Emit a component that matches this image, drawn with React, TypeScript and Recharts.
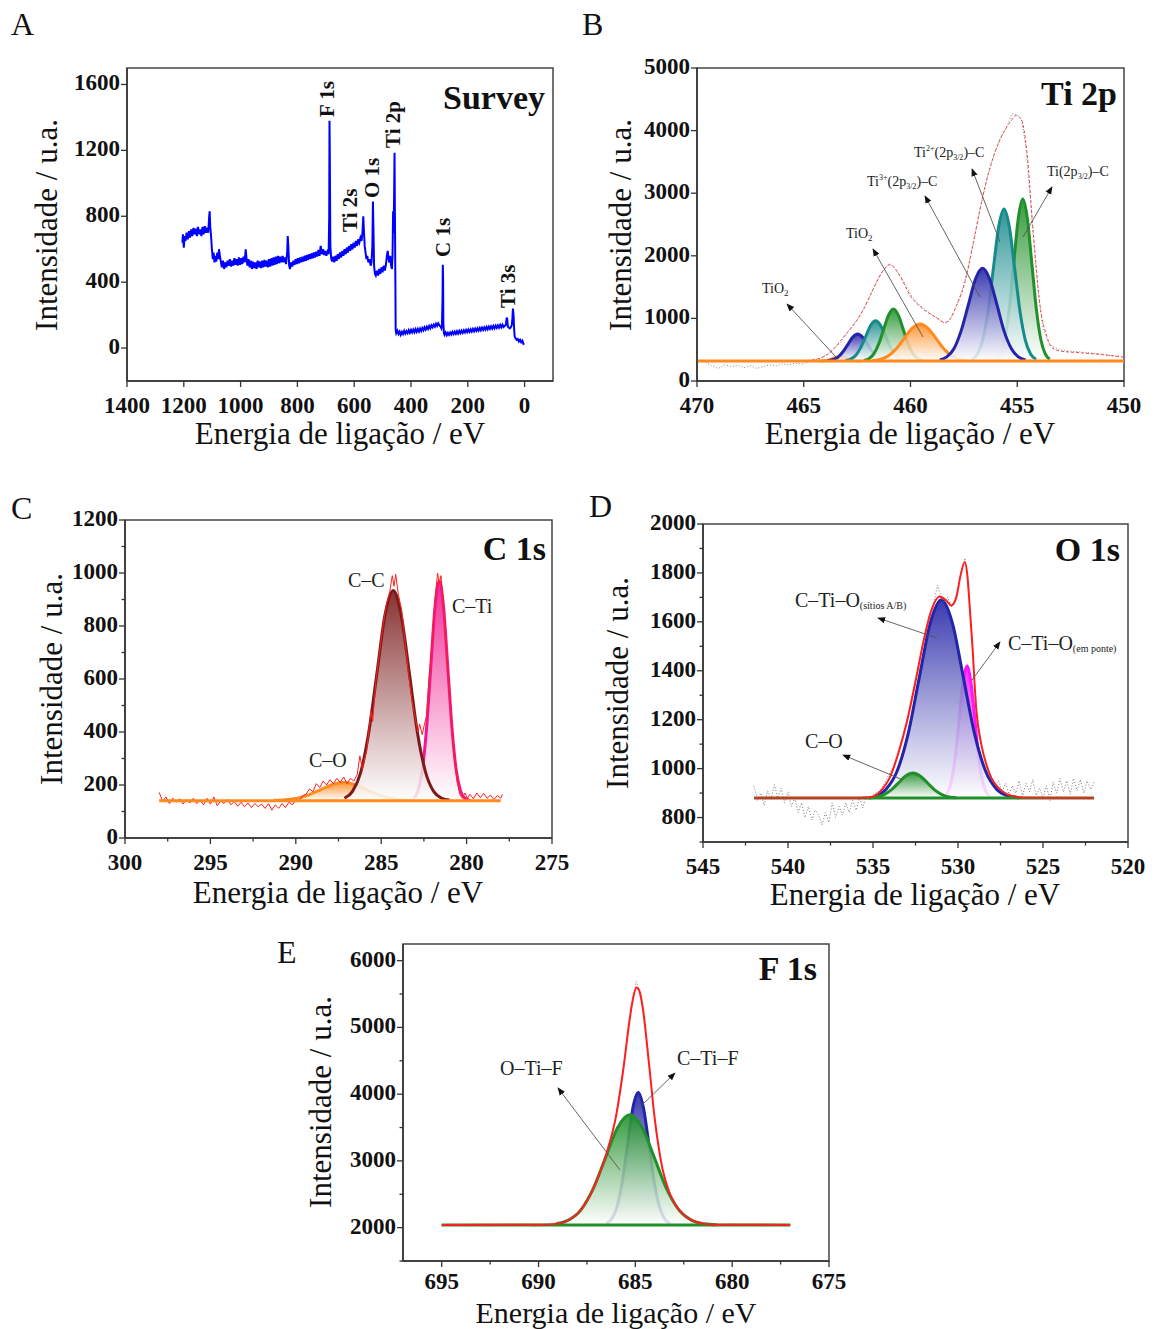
import React from 'react';
import { ComposedChart, Line, Area, XAxis, YAxis, ReferenceArea } from 'recharts';

type Pt = [number, number];
const rows = (pts: Pt[]) => pts.map(([x, y]) => ({ x, y }));

const FONT = '"Liberation Serif", "Times New Roman", serif';

// ---------- A: survey ----------
const surveyTicksX = [1400, 1200, 1000, 800, 600, 400, 200, 0];
const surveyTicksY = [0, 400, 800, 1200, 1600];
const survey: Pt[] = [
  [1205, 640], [1203, 690], [1200, 610], [1197, 680], [1194, 650], [1190, 700], [1186, 660], [1182, 710], [1178, 670],
  [1174, 720], [1170, 680], [1166, 730], [1162, 690], [1158, 725], [1154, 680], [1150, 735], [1146, 690], [1142, 720],
  [1138, 680], [1134, 735], [1130, 690], [1126, 740], [1122, 700], [1118, 730], [1114, 700], [1111, 790], [1109, 830],
  [1107, 740], [1104, 680], [1101, 600], [1098, 540], [1095, 580], [1092, 520], [1089, 560], [1086, 525], [1082, 580],
  [1079, 540], [1076, 600], [1073, 560], [1070, 530], [1066, 490], [1062, 530], [1058, 480], [1054, 520], [1050, 490],
  [1046, 530], [1042, 500], [1038, 540], [1034, 495], [1030, 530], [1026, 500], [1022, 545], [1018, 505], [1014, 540],
  [1010, 500], [1006, 550], [1002, 505], [998, 545], [994, 510], [990, 555], [986, 520], [982, 600], [979, 540],
  [976, 500], [972, 540], [968, 490], [964, 530], [960, 480], [956, 525], [952, 485], [948, 520], [944, 480], [940, 530],
  [936, 490], [932, 525], [928, 485], [924, 530], [920, 490], [916, 535], [912, 495], [908, 530], [904, 490], [900, 540],
  [896, 495], [892, 545], [888, 500], [884, 550], [880, 505], [876, 555], [872, 510], [868, 560], [864, 515], [860, 555],
  [856, 520], [852, 560], [848, 520], [844, 550], [840, 510], [836, 580], [834, 680], [832, 620], [829, 500], [826, 480],
  [822, 520], [818, 495], [814, 530], [810, 505], [806, 540], [802, 510], [798, 545], [794, 515], [790, 550], [786, 520],
  [782, 555], [778, 525], [774, 560], [770, 530], [766, 565], [762, 535], [758, 570], [754, 540], [750, 575], [746, 545],
  [742, 580], [738, 550], [734, 585], [730, 555], [726, 595], [722, 560], [718, 620], [714, 570], [710, 600], [706, 565],
  [702, 590], [698, 560], [694, 585], [690, 570], [688, 800], [687, 1380], [686, 1200], [684, 620], [681, 545], [678, 525],
  [674, 555], [670, 520], [666, 560], [662, 530], [658, 570], [654, 540], [650, 580], [646, 550], [642, 590], [638, 560],
  [634, 600], [630, 570], [626, 610], [622, 580], [618, 620], [614, 590], [610, 630], [606, 600], [602, 640], [598, 610],
  [594, 650], [590, 620], [586, 660], [582, 640], [578, 670], [574, 650], [571, 700], [568, 800], [566, 720], [563, 620],
  [560, 580], [557, 540], [554, 560], [550, 520], [546, 540], [542, 500], [539, 520], [536, 620], [534, 890], [532, 700],
  [530, 500], [527, 450], [524, 440], [520, 470], [516, 440], [512, 480], [508, 450], [504, 490], [500, 460], [496, 500],
  [492, 470], [488, 510], [485, 560], [482, 590], [479, 540], [476, 520], [473, 560], [470, 500], [467, 480], [465, 560],
  [463, 830], [461, 700], [459, 1000], [458, 1185], [457, 900], [455, 400], [454, 110], [452, 90], [448, 105], [444, 85],
  [440, 100], [436, 80], [432, 98], [428, 85], [424, 105], [420, 88], [416, 102], [412, 90], [408, 108], [404, 92],
  [400, 110], [396, 95], [392, 112], [388, 96], [384, 114], [380, 98], [376, 116], [372, 100], [368, 118], [364, 104],
  [360, 122], [356, 108], [352, 126], [348, 112], [344, 130], [340, 116], [336, 134], [332, 120], [328, 138], [324, 126],
  [320, 142], [316, 130], [312, 148], [308, 134], [304, 150], [300, 138], [296, 130], [293, 120], [291, 140], [289, 300],
  [288, 505], [287, 420], [286, 150], [284, 90], [282, 80], [278, 95], [274, 78], [270, 92], [266, 80], [262, 95],
  [258, 82], [254, 98], [250, 85], [246, 100], [242, 86], [238, 102], [234, 88], [230, 104], [226, 90], [222, 106],
  [218, 92], [214, 108], [210, 95], [206, 110], [202, 96], [198, 112], [194, 98], [190, 114], [186, 100], [182, 116],
  [178, 102], [174, 118], [170, 104], [166, 120], [162, 106], [158, 122], [154, 108], [150, 124], [146, 110], [142, 126],
  [138, 112], [134, 128], [130, 114], [126, 130], [122, 116], [118, 132], [114, 118], [110, 134], [106, 120], [102, 136],
  [98, 122], [94, 138], [90, 124], [86, 140], [82, 126], [78, 142], [74, 128], [70, 135], [66, 140], [63, 185], [61, 175],
  [59, 130], [56, 125], [52, 120], [48, 128], [45, 140], [43, 180], [41, 240], [39, 200], [37, 120], [35, 70], [32, 60],
  [28, 50], [24, 55], [20, 40], [16, 50], [12, 35], [8, 45], [4, 25], [2, 20],
];
const surveyPeaks = [
  { name: 'F 1s', x: 334, y: 117 },
  { name: 'Ti 2s', x: 357, y: 232 },
  { name: 'O 1s', x: 379, y: 198 },
  { name: 'Ti 2p', x: 400, y: 148 },
  { name: 'C 1s', x: 450, y: 257 },
  { name: 'Ti 3s', x: 515, y: 308 },
];

// ---------- B: Ti 2p ----------
const tiTicksX = [470, 465, 460, 455, 450];
const tiTicksY = [0, 1000, 2000, 3000, 4000, 5000];
const tiBase = 320;
const tiBaseline: Pt[] = [[470, 320], [450, 320]];
const tiO2Small: Pt[] = [[464.26, 321], [464.1, 323], [463.94, 329], [463.78, 342], [463.62, 361], [463.46, 380], [463.3, 388], [463.14, 380], [462.98, 361], [462.82, 342], [462.66, 329], [462.5, 323], [462.34, 321]];
const tiBlueSmall: Pt[] = [[463.88, 325], [463.65, 339], [463.41, 378], [463.18, 460], [462.94, 581], [462.71, 699], [462.47, 750], [462.24, 699], [462.0, 581], [461.77, 460], [461.53, 378], [461.3, 339], [461.06, 325]];
const tiTealSmall: Pt[] = [[463.04, 327], [462.81, 348], [462.57, 407], [462.34, 529], [462.1, 710], [461.87, 887], [461.63, 963], [461.4, 887], [461.16, 710], [460.93, 529], [460.69, 407], [460.46, 348], [460.22, 327]];
const tiGreenSmall: Pt[] = [[462.18, 329], [461.95, 356], [461.72, 432], [461.49, 590], [461.26, 823], [461.03, 1052], [460.8, 1150], [460.57, 1052], [460.34, 823], [460.11, 590], [459.88, 432], [459.65, 356], [459.42, 329]];
const tiO2Big: Pt[] = [[461.8, 327], [461.43, 346], [461.05, 400], [460.68, 512], [460.3, 678], [459.93, 841], [459.55, 910], [459.18, 841], [458.8, 678], [458.43, 512], [458.05, 400], [457.68, 346], [457.3, 327]];
const ti3Plus: Pt[] = [[458.63, 336], [458.3, 385], [457.96, 520], [457.63, 801], [457.29, 1218], [456.96, 1626], [456.62, 1800], [456.29, 1626], [455.95, 1218], [455.62, 801], [455.28, 520], [454.95, 385], [454.61, 336]];
const ti2Plus: Pt[] = [[457.12, 347], [456.87, 427], [456.62, 649], [456.37, 1108], [456.12, 1793], [455.87, 2463], [455.62, 2748], [455.37, 2463], [455.12, 1793], [454.87, 1108], [454.62, 649], [454.37, 427], [454.12, 347]];
const tiMetal: Pt[] = [[456.0, 349], [455.79, 434], [455.58, 670], [455.37, 1160], [455.16, 1889], [454.95, 2603], [454.74, 2907], [454.53, 2603], [454.32, 1889], [454.11, 1160], [453.9, 670], [453.69, 434], [453.48, 349]];
const tiEnvelope: Pt[] = [[470, 320], [467, 322], [465, 326], [464.4, 349], [463.9, 420], [463.6, 509], [463.15, 695], [462.7, 880], [462.2, 1147], [461.75, 1466], [461.35, 1732], [460.95, 1860], [460.5, 1678], [460.0, 1359], [459.4, 1147], [458.8, 1014], [458.4, 935], [458.15, 985], [457.85, 1200], [457.5, 1520], [457.05, 2220], [456.75, 2740], [456.3, 3380], [455.8, 3860], [455.3, 4150], [455.05, 4240], [454.8, 4170], [454.56, 3700], [454.25, 2370], [453.93, 1200], [453.6, 700], [453.39, 536], [453.0, 480], [452, 450], [451, 420], [450, 380]];
const tiRaw: Pt[] = [[469.6, 300], [469.3, 240], [469.0, 200], [468.7, 260], [468.4, 230], [468.1, 250], [467.8, 215], [467.5, 245], [467.2, 200], [466.9, 230], [466.6, 260], [466.3, 240], [466.0, 275], [465.7, 255], [465.4, 290], [465.1, 270], [464.8, 300], [464.5, 330], [464.2, 360], [463.9, 430], [463.6, 520], [463.3, 610], [463.0, 760], [462.7, 890], [462.4, 1020], [462.1, 1210], [461.8, 1430], [461.5, 1640], [461.2, 1790], [461.0, 1870], [460.8, 1830], [460.5, 1700], [460.2, 1520], [459.9, 1330], [459.6, 1220], [459.3, 1140], [459.0, 1060], [458.7, 1000], [458.4, 920], [458.2, 960], [457.9, 1150], [457.6, 1430], [457.3, 1800], [457.0, 2300], [456.7, 2800], [456.4, 3250], [456.1, 3600], [455.8, 3880], [455.5, 4050], [455.25, 4270], [455.0, 4250], [454.8, 4180], [454.6, 3750], [454.4, 2950], [454.2, 2100], [454.0, 1350], [453.8, 850], [453.6, 650], [453.4, 560], [453.0, 500], [452.6, 480], [452.2, 470], [451.8, 455], [451.4, 445], [451.0, 430], [450.6, 405], [450.2, 395]];

// ---------- C: C 1s ----------
const cTicksX = [300, 297.5, 295, 292.5, 290, 287.5, 285, 282.5, 280, 277.5, 275];
const cLabelsX = [300, 295, 290, 285, 280, 275];
const cTicksY = [0, 100, 200, 300, 400, 500, 600, 700, 800, 900, 1000, 1100, 1200];
const cLabelsY = [0, 200, 400, 600, 800, 1000, 1200];
const cBase = 141;
const cBaseline: Pt[] = [[298, 141], [278, 141]];
const cO: Pt[] = [[291.28, 142], [290.6, 144], [289.92, 150], [289.24, 163], [288.56, 182], [287.88, 201], [287.2, 209], [286.52, 201], [285.84, 182], [285.16, 163], [284.48, 150], [283.8, 144], [283.12, 142]];
const cC: Pt[] = [[287.15, 150], [286.68, 176], [286.2, 248], [285.73, 398], [285.25, 622], [284.78, 841], [284.3, 934], [283.83, 841], [283.35, 622], [282.88, 398], [282.4, 248], [281.93, 176], [281.45, 150], [281.0, 143]];
const cTi: Pt[] = [[283.1, 150], [282.85, 177], [282.6, 253], [282.35, 410], [282.1, 643], [281.85, 872], [281.6, 969], [281.35, 872], [281.1, 643], [280.85, 410], [280.6, 253], [280.35, 177], [280.1, 150], [279.8, 142]];
const cRaw: Pt[] = [[298.0, 172], [297.8, 140], [297.6, 155], [297.4, 130], [297.2, 150], [297.0, 135], [296.8, 148], [296.6, 128], [296.4, 145], [296.2, 132], [296.0, 150], [295.8, 130], [295.6, 142], [295.4, 125], [295.2, 150], [295.0, 128], [294.8, 155], [294.6, 122], [294.4, 140], [294.2, 130], [294.0, 145], [293.8, 125], [293.6, 138], [293.4, 120], [293.2, 135], [293.0, 118], [292.8, 132], [292.6, 115], [292.4, 130], [292.2, 118], [292.0, 128], [291.8, 112], [291.6, 130], [291.4, 105], [291.2, 125], [291.0, 112], [290.8, 130], [290.6, 115], [290.4, 135], [290.2, 125], [290.0, 145], [289.8, 140], [289.6, 160], [289.4, 165], [289.2, 185], [289.0, 175], [288.8, 205], [288.6, 190], [288.4, 215], [288.2, 200], [288.0, 220], [287.8, 205], [287.6, 225], [287.4, 210], [287.2, 230], [287.0, 205], [286.8, 225], [286.6, 215], [286.4, 240], [286.25, 310], [286.1, 260], [286.0, 290], [285.85, 330], [285.7, 420], [285.6, 480], [285.5, 440], [285.3, 600], [285.1, 700], [284.9, 800], [284.7, 880], [284.5, 930], [284.35, 990], [284.25, 950], [284.15, 995], [284.0, 920], [283.8, 860], [283.6, 740], [283.4, 620], [283.2, 520], [283.0, 450], [282.85, 400], [282.75, 430], [282.6, 390], [282.5, 420], [282.35, 460], [282.2, 600], [282.0, 750], [281.85, 900], [281.7, 1000], [281.6, 960], [281.5, 990], [281.35, 880], [281.2, 720], [281.0, 560], [280.85, 420], [280.7, 300], [280.55, 210], [280.4, 165], [280.25, 150], [280.1, 170], [279.95, 150], [279.8, 165], [279.6, 148], [279.4, 170], [279.2, 152], [279.0, 168], [278.8, 150], [278.6, 162], [278.4, 145], [278.2, 160], [278.0, 150], [277.9, 165]];

// ---------- D: O 1s ----------
const oTicksX = [545, 542.5, 540, 537.5, 535, 532.5, 530, 527.5, 525, 522.5, 520];
const oLabelsX = [545, 540, 535, 530, 525, 520];
const oTicksY = [700, 800, 900, 1000, 1100, 1200, 1300, 1400, 1500, 1600, 1700, 1800, 1900, 2000];
const oLabelsY = [800, 1000, 1200, 1400, 1600, 1800, 2000];
const oBase = 880;
const oBaseline: Pt[] = [[542, 880], [522, 880]];
const oCO: Pt[] = [[535.2, 881], [534.78, 884], [534.35, 894], [533.93, 913], [533.5, 942], [533.08, 970], [532.65, 982], [532.23, 970], [531.8, 942], [531.38, 913], [530.95, 894], [530.53, 884], [530.1, 881]];
const oSites: Pt[] = [[534.88, 889], [534.23, 916], [533.58, 990], [532.93, 1143], [532.28, 1371], [531.63, 1595], [530.98, 1690], [530.33, 1595], [529.68, 1371], [529.03, 1143], [528.38, 990], [527.73, 916], [527.08, 889], [526.4, 881]];
const oBridge: Pt[] = [[530.82, 886], [530.6, 904], [530.37, 953], [530.15, 1055], [529.92, 1208], [529.7, 1357], [529.47, 1420], [529.25, 1357], [529.02, 1208], [528.8, 1055], [528.57, 953], [528.35, 904], [528.12, 886]];
const oEnvelope: Pt[] = [[542, 880], [536, 880], [535.2, 883], [534.8, 893], [534.4, 920], [534.02, 962], [533.53, 1058], [533.04, 1181], [532.45, 1373], [532.06, 1510], [531.57, 1647], [531.08, 1704], [530.7, 1688], [530.39, 1667], [530.1, 1700], [529.85, 1790], [529.6, 1845], [529.45, 1790], [529.3, 1650], [529.16, 1510], [528.92, 1236], [528.63, 1099], [528.3, 1010], [528.04, 962], [527.6, 920], [527.1, 895], [526.5, 884], [526, 881], [522, 880]];
const oRaw: Pt[] = [[542.0, 930], [541.8, 870], [541.6, 900], [541.4, 850], [541.2, 910], [541.0, 875], [540.8, 935], [540.6, 880], [540.4, 920], [540.2, 860], [540.0, 905], [539.8, 845], [539.6, 880], [539.4, 820], [539.2, 860], [539.0, 800], [538.8, 845], [538.6, 790], [538.4, 830], [538.2, 810], [538.0, 770], [537.8, 820], [537.6, 780], [537.4, 860], [537.2, 800], [537.0, 845], [536.8, 810], [536.6, 860], [536.4, 820], [536.2, 870], [536.0, 830], [535.8, 880], [535.6, 840], [535.4, 885], [535.2, 870], [535.0, 895], [534.7, 905], [534.4, 930], [534.1, 970], [533.8, 1010], [533.5, 1075], [533.2, 1150], [532.9, 1230], [532.6, 1340], [532.3, 1430], [532.0, 1540], [531.7, 1620], [531.4, 1690], [531.2, 1750], [531.0, 1700], [530.8, 1680], [530.6, 1700], [530.4, 1660], [530.2, 1690], [530.0, 1740], [529.8, 1810], [529.6, 1860], [529.45, 1800], [529.3, 1660], [529.15, 1500], [529.0, 1320], [528.8, 1180], [528.6, 1090], [528.4, 1030], [528.2, 990], [528.0, 960], [527.8, 935], [527.6, 950], [527.4, 905], [527.2, 940], [527.0, 895], [526.8, 930], [526.6, 900], [526.4, 950], [526.2, 890], [526.0, 940], [525.8, 905], [525.6, 955], [525.4, 890], [525.2, 920], [525.0, 880], [524.8, 930], [524.6, 870], [524.4, 945], [524.2, 900], [524.0, 960], [523.8, 905], [523.6, 950], [523.4, 895], [523.2, 960], [523.0, 910], [522.8, 955], [522.6, 900], [522.4, 950], [522.2, 915], [522.0, 945]];

// ---------- E: F 1s ----------
const fTicksX = [695, 692.5, 690, 687.5, 685, 682.5, 680, 677.5, 675];
const fLabelsX = [695, 690, 685, 680, 675];
const fTicksY = [1500, 2000, 2500, 3000, 3500, 4000, 4500, 5000, 5500, 6000];
const fLabelsY = [2000, 3000, 4000, 5000, 6000];
const fBase = 2040;
const fBaseline: Pt[] = [[695, 2040], [677, 2040]];
const fOTiF: Pt[] = [[689.09, 2058], [688.46, 2112], [687.82, 2263], [687.19, 2576], [686.55, 3041], [685.92, 3496], [685.28, 3690], [684.65, 3496], [684.01, 3041], [683.38, 2576], [682.74, 2263], [682.11, 2112], [681.47, 2058], [680.8, 2042]];
const fCTiF: Pt[] = [[686.5, 2062], [686.23, 2127], [685.95, 2309], [685.68, 2685], [685.4, 3244], [685.13, 3792], [684.85, 4025], [684.58, 3792], [684.3, 3244], [684.03, 2685], [683.75, 2309], [683.48, 2127], [683.2, 2062]];
const fEnvelope: Pt[] = [[695, 2040], [690, 2042], [689.0, 2060], [688.5, 2106], [688.0, 2206], [687.5, 2398], [687.0, 2700], [686.5, 3103], [686.0, 3667], [685.6, 4422], [685.3, 5111], [685.1, 5464], [684.94, 5600], [684.8, 5553], [684.6, 5260], [684.3, 4469], [684.0, 3633], [683.6, 2878], [683.2, 2494], [682.8, 2285], [682.4, 2166], [682.0, 2099], [681.5, 2060], [681.0, 2045], [677, 2040]];
const fRaw: Pt[] = [[695, 2030], [694.4, 2052], [693.8, 2028], [693.2, 2050], [692.6, 2022], [692, 2046], [691.4, 2030], [690.8, 2055], [690.2, 2020], [689.6, 2060], [689, 2075], [688.5, 2115], [688, 2220], [687.5, 2400], [687, 2710], [686.5, 3100], [686, 3680], [685.5, 4650], [685.2, 5320], [684.95, 5690], [684.7, 5420], [684.4, 4720], [684, 3640], [683.6, 2880], [683.2, 2500], [682.8, 2300], [682.4, 2175], [682, 2110], [681.5, 2075], [681, 2060], [680.5, 2035], [680, 2058], [679.5, 2030], [679, 2055], [678.5, 2028], [678, 2052], [677.5, 2035], [677, 2050]];

// ---------- shared ----------
const BLUE = '#2424a8';
const TEAL = '#178a8c';
const GREEN = '#21902a';
const ORANGE = '#ff8a1e';
const MAROON = '#7a1a1a';
const PINK = '#f0168c';
const MAGENTA = '#ff14ff';
const RED = '#ff1f1f';

// axes are 1px wide/high (0 hides them in recharts), so margins are 1px smaller
const M = { left: 89, top: 20, right: 20, bottom: 49 };

const xTick = (labels: number[] | null, dy: number) => (p: any) => {
  const v = p.payload.value;
  const major = labels === null || labels.includes(v);
  return (
    <g>
      <line x1={p.x} x2={p.x} y1={p.y} y2={p.y + (major ? 6 : 3.5)} stroke="#333" strokeWidth={1.3} />
      {major && (
        <text x={p.x} y={p.y + dy} textAnchor="middle" fontFamily={FONT} fontWeight="bold" fontSize={23} fill="#111">
          {v}
        </text>
      )}
    </g>
  );
};

const yTick = (labels: number[] | null) => (p: any) => {
  const v = p.payload.value;
  const major = labels === null || labels.includes(v);
  return (
    <g>
      <line x1={p.x} x2={p.x - (major ? 6 : 3.5)} y1={p.y} y2={p.y} stroke="#333" strokeWidth={1.3} />
      {major && (
        <text x={p.x - 7} y={p.y + 6} textAnchor="end" fontFamily={FONT} fontWeight="bold" fontSize={23} fill="#111">
          {v}
        </text>
      )}
    </g>
  );
};

function Grad({ id, color }: { id: string; color: string }) {
  return (
    <linearGradient id={id} x1="0" y1="0" x2="0" y2="1">
      <stop offset="0%" stopColor={color} stopOpacity={0.9} />
      <stop offset="100%" stopColor="#ffffff" stopOpacity={0.85} />
    </linearGradient>
  );
}

function Panel({ box, xDomain, yDomain, xTicks, xLabels, yTicks, yLabels, labelDy = 32, children }: any) {
  return (
    <div style={{ position: 'absolute', left: box.l - M.left - 1, top: box.t - M.top }}>
      <ComposedChart width={box.w + M.left + 1 + M.right} height={box.h + M.top + M.bottom + 1} margin={M}>
        {children}
        <XAxis
          type="number"
          dataKey="x"
          domain={xDomain}
          reversed
          allowDataOverflow
          ticks={xTicks}
          interval={0}
          tickSize={0}
          tickMargin={0}
          height={1}
          tickLine={false}
          axisLine={{ stroke: '#333', strokeWidth: 1.5 }}
          tick={xTick(xLabels, labelDy)}
        />
        <YAxis
          type="number"
          domain={yDomain}
          allowDataOverflow
          ticks={yTicks}
          interval={0}
          tickSize={0}
          tickMargin={0}
          width={1}
          tickLine={false}
          axisLine={{ stroke: '#333', strokeWidth: 1.5 }}
          tick={yTick(yLabels)}
        />
        <ReferenceArea
          x1={xDomain[0]}
          x2={xDomain[1]}
          y1={yDomain[0]}
          y2={yDomain[1]}
          fill="none"
          stroke="#444"
          strokeWidth={1.5}
          ifOverflow="visible"
        />
      </ComposedChart>
    </div>
  );
}

const comp = (data: Pt[], color: string, grad: string, base: number) => (
  <Area
    data={rows(data)}
    dataKey="y"
    type="monotone"
    baseValue={base}
    stroke={color}
    strokeWidth={3}
    fill={`url(#${grad})`}
    fillOpacity={1}
    dot={false}
    activeDot={false}
    isAnimationActive={false}
  />
);

const line = (data: Pt[], color: string, width: number, curve: 'linear' | 'monotone', dash?: string) => (
  <Line
    data={rows(data)}
    dataKey="y"
    type={curve}
    stroke={color}
    strokeWidth={width}
    strokeDasharray={dash}
    dot={false}
    activeDot={false}
    isAnimationActive={false}
  />
);

function Arrow({ x1, y1, x2, y2 }: { x1: number; y1: number; x2: number; y2: number }) {
  return <line x1={x1} y1={y1} x2={x2} y2={y2} stroke="#555" strokeWidth={0.9} markerEnd="url(#ah)" />;
}

function Overlay() {
  const title = { fontFamily: FONT, fontSize: 31, fill: '#111' } as const;
  const letter = { fontFamily: FONT, fontSize: 32, fill: '#111' } as const;
  const head = { fontFamily: FONT, fontSize: 34, fontWeight: 'bold', fill: '#111' } as const;
  const lab = { fontFamily: FONT, fontSize: 20, fill: '#222' } as const;
  const small = { fontFamily: FONT, fontSize: 14, fill: '#222' } as const;
  return (
    <svg width={1157} height={1329} style={{ position: 'absolute', left: 0, top: 0, pointerEvents: 'none' }}>
      <defs>
        <marker id="ah" viewBox="0 0 10 10" refX="9" refY="5" markerUnits="userSpaceOnUse" markerWidth="8" markerHeight="8" orient="auto">
          <path d="M0,1 L10,5 L0,9 z" fill="#111" />
        </marker>
      </defs>

      {/* panel letters */}
      <text x={11} y={35} {...letter}>A</text>
      <text x={582} y={35} {...letter}>B</text>
      <text x={11} y={519} {...letter}>C</text>
      <text x={589} y={517} {...letter}>D</text>
      <text x={277} y={963} {...letter}>E</text>

      {/* panel headings */}
      <text x={545} y={109} textAnchor="end" {...head}>Survey</text>
      <text x={1117} y={105} textAnchor="end" {...head}>Ti 2p</text>
      <text x={546} y={560} textAnchor="end" {...head}>C 1s</text>
      <text x={1120} y={561} textAnchor="end" {...head}>O 1s</text>
      <text x={817} y={980} textAnchor="end" {...head}>F 1s</text>

      {/* axis titles */}
      <text x={340} y={444} textAnchor="middle" {...title}>Energia de ligação / eV</text>
      <text x={910} y={444} textAnchor="middle" {...title}>Energia de ligação / eV</text>
      <text x={338} y={903} textAnchor="middle" {...title}>Energia de ligação / eV</text>
      <text x={915} y={905} textAnchor="middle" {...title}>Energia de ligação / eV</text>
      <text x={616} y={1323} textAnchor="middle" {...title} fontSize={30}>Energia de ligação / eV</text>
      <text transform="translate(57,225) rotate(-90)" textAnchor="middle" {...title}>Intensidade / u.a.</text>
      <text transform="translate(631,225) rotate(-90)" textAnchor="middle" {...title}>Intensidade / u.a.</text>
      <text transform="translate(62,679) rotate(-90)" textAnchor="middle" {...title}>Intensidade / u.a.</text>
      <text transform="translate(628,683) rotate(-90)" textAnchor="middle" {...title}>Intensidade / u.a.</text>
      <text transform="translate(331,1102) rotate(-90)" textAnchor="middle" {...title}>Intensidade / u.a.</text>

      {/* survey peak names */}
      {surveyPeaks.map((p) => (
        <text key={p.name} transform={`translate(${p.x},${p.y}) rotate(-90)`} fontFamily={FONT} fontSize={21} fontWeight="bold" fill="#111">
          {p.name}
        </text>
      ))}

      {/* Ti 2p labels */}
      <text x={762} y={293} {...small}>TiO<tspan fontSize={9} dy={3}>2</tspan></text>
      <text x={846} y={238} {...small}>TiO<tspan fontSize={9} dy={3}>2</tspan></text>
      <text x={867} y={186} {...small}>
        Ti<tspan fontSize={8} dy={-6}>3+</tspan><tspan dy={6}>(2p</tspan><tspan fontSize={8} dy={3}>3/2</tspan><tspan dy={-3}>)–C</tspan>
      </text>
      <text x={914} y={157} {...small}>
        Ti<tspan fontSize={8} dy={-6}>2+</tspan><tspan dy={6}>(2p</tspan><tspan fontSize={8} dy={3}>3/2</tspan><tspan dy={-3}>)–C</tspan>
      </text>
      <text x={1047} y={176} {...small}>
        Ti(2p<tspan fontSize={8} dy={3}>3/2</tspan><tspan dy={-3}>)–C</tspan>
      </text>
      <Arrow x1={836} y1={357} x2={787} y2={304} />
      <Arrow x1={923} y1={337} x2={873} y2={249} />
      <Arrow x1={980} y1={297} x2={925} y2={196} />
      <Arrow x1={1000} y1={242} x2={972} y2={169} />
      <Arrow x1={1023} y1={237} x2={1052} y2={187} />

      {/* C 1s labels */}
      <text x={348} y={587} {...lab}>C–C</text>
      <text x={452} y={613} {...lab}>C–Ti</text>
      <text x={309} y={767} {...lab}>C–O</text>

      {/* O 1s labels */}
      <text x={795} y={607} {...lab}>C–Ti–O<tspan fontSize={10} dy={2}>(sítios A/B)</tspan></text>
      <text x={1008} y={650} {...lab}>C–Ti–O<tspan fontSize={10} dy={2}>(em ponte)</tspan></text>
      <text x={805} y={748} {...lab}>C–O</text>
      <Arrow x1={937} y1={638} x2={878} y2={618} />
      <Arrow x1={972} y1={680} x2={1000} y2={642} />
      <Arrow x1={903} y1={780} x2={843} y2={755} />

      {/* F 1s labels */}
      <text x={500} y={1075} {...lab}>O–Ti–F</text>
      <text x={677} y={1065} {...lab}>C–Ti–F</text>
      <Arrow x1={620} y1={1170} x2={558} y2={1088} />
      <Arrow x1={640} y1={1107} x2={675} y2={1073} />
    </svg>
  );
}

export default function App() {
  return (
    <div style={{ position: 'absolute', left: 0, top: 0, width: 1157, height: 1329, background: '#fff', overflow: 'hidden' }}>
      {/* A */}
      <Panel box={{ l: 127, t: 68, w: 426, h: 313 }} xDomain={[-100, 1400]} yDomain={[-200, 1700]}
        xTicks={surveyTicksX} xLabels={null} yTicks={surveyTicksY} yLabels={null}>
        {line(survey, '#0000ff', 2, 'linear')}
      </Panel>

      {/* B */}
      <Panel box={{ l: 697, t: 68, w: 427, h: 313 }} xDomain={[450, 470]} yDomain={[0, 5000]}
        xTicks={tiTicksX} xLabels={null} yTicks={tiTicksY} yLabels={null}>
        <defs>
          <Grad id="bOr" color={ORANGE} />
          <Grad id="bBl" color={BLUE} />
          <Grad id="bTe" color={TEAL} />
          <Grad id="bGr" color={GREEN} />
        </defs>
        {line(tiRaw, '#8a8a8a', 1, 'linear', '1 2')}
        {comp(tiO2Small, ORANGE, 'bOr', tiBase)}
        {comp(tiBlueSmall, BLUE, 'bBl', tiBase)}
        {comp(tiTealSmall, TEAL, 'bTe', tiBase)}
        {comp(tiGreenSmall, GREEN, 'bGr', tiBase)}
        {comp(tiO2Big, ORANGE, 'bOr', tiBase)}
        {comp(tiMetal, GREEN, 'bGr', tiBase)}
        {comp(ti2Plus, TEAL, 'bTe', tiBase)}
        {comp(ti3Plus, BLUE, 'bBl', tiBase)}
        {line(tiEnvelope, '#e8494f', 1, 'monotone', '3 2')}
        {line(tiBaseline, ORANGE, 3, 'linear')}
      </Panel>

      {/* C */}
      <Panel box={{ l: 125, t: 520, w: 427, h: 318 }} xDomain={[275, 300]} yDomain={[0, 1200]}
        xTicks={cTicksX} xLabels={cLabelsX} yTicks={cTicksY} yLabels={cLabelsY}>
        <defs>
          <Grad id="cOr" color={ORANGE} />
          <Grad id="cMa" color={MAROON} />
          <Grad id="cPi" color={PINK} />
        </defs>
        {comp(cTi, PINK, 'cPi', cBase)}
        {comp(cO, ORANGE, 'cOr', cBase)}
        {comp(cC, MAROON, 'cMa', cBase)}
        {line(cRaw, RED, 1, 'linear')}
        {line(cBaseline, ORANGE, 3, 'linear')}
      </Panel>

      {/* D */}
      <Panel box={{ l: 703, t: 524, w: 425, h: 318 }} xDomain={[520, 545]} yDomain={[700, 2000]}
        xTicks={oTicksX} xLabels={oLabelsX} yTicks={oTicksY} yLabels={oLabelsY}>
        <defs>
          <Grad id="dGr" color={GREEN} />
          <Grad id="dBl" color={BLUE} />
          <Grad id="dMg" color={MAGENTA} />
        </defs>
        {line(oRaw, '#777', 1, 'linear', '1 2')}
        {comp(oBridge, MAGENTA, 'dMg', oBase)}
        {comp(oSites, BLUE, 'dBl', oBase)}
        {comp(oCO, GREEN, 'dGr', oBase)}
        {line(oBaseline, GREEN, 3, 'linear')}
        {line(oEnvelope, RED, 2, 'monotone')}
      </Panel>

      {/* E */}
      <Panel box={{ l: 403, t: 944, w: 426, h: 317 }} xDomain={[675, 697]} yDomain={[1500, 6250]}
        xTicks={fTicksX} xLabels={fLabelsX} yTicks={fTicksY} yLabels={fLabelsY} labelDy={28}>
        <defs>
          <Grad id="eBl" color={BLUE} />
          <Grad id="eGr" color={GREEN} />
        </defs>
        {line(fRaw, '#888', 1, 'linear', '1 2')}
        {comp(fCTiF, BLUE, 'eBl', fBase)}
        {comp(fOTiF, GREEN, 'eGr', fBase)}
        {line(fBaseline, GREEN, 3, 'linear')}
        {line(fEnvelope, RED, 2, 'monotone')}
      </Panel>

      <Overlay />
    </div>
  );
}
